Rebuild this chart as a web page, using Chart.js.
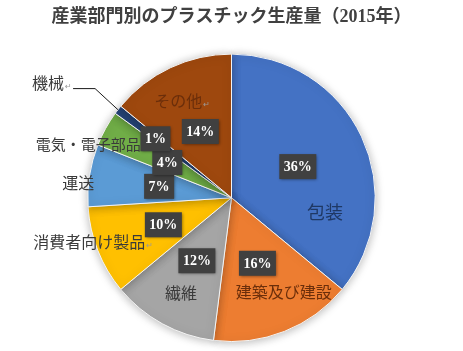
<!DOCTYPE html>
<html>
<head>
<meta charset="utf-8">
<script src="https://cdn.jsdelivr.net/npm/chart.js@4"></script>
<style>
  html, body { margin: 0; padding: 0; background: #ffffff; }
  #wrap { width: 463px; height: 351px; }
</style>
</head>
<body>
<div id="wrap"><canvas id="chart" width="463" height="351"></canvas></div>
<script>
// chart data
const categories = ['包装', '建築及び建設', '繊維', '消費者向け製品', '運送', '電気・電子部品', '機械', 'その他'];
const shares = [36, 16, 12, 10, 7, 4, 1, 14];
const sliceColors = ['#4472C4', '#ED7D31', '#A5A5A5', '#FFC000', '#5B9BD5', '#70AD47', '#264478', '#9E480E'];

const SERIF = '"Liberation Serif", "DejaVu Serif", "Noto Sans CJK JP", serif';

// where each category name sits: r = fraction of radius, t = fraction along the slice
const nameLayout = [
  { r: 0.66, t: 0.77, size: 18, color: '#1F3864' },
  { r: 0.76, t: 0.38, size: 16, color: '#6B2E0A' },
  { r: 0.76, t: 0.47, size: 16, color: '#3A3A3A' },
  { r: 1.04, t: 0.60, size: 16, color: '#3A3A3A', mark: true },
  { r: 1.07, t: 0.34, size: 16, color: '#3A3A3A' },
  { r: 1.06, t: -0.12, size: 15, color: '#3A3A3A' },
  { r: 1.50, t: -1.2, size: 16, color: '#3A3A3A', mark: true, leader: true },
  { r: 0.76, t: 0.42, size: 16, color: '#6B2E0A', mark: true }
];
// radius fraction of the percentage boxes
const pctRadius = [0.51, 0.49, 0.50, 0.51, 0.51, 0.51, 0.67, 0.51];

const pieShadow = {
  id: 'pieShadow',
  beforeDatasetsDraw(chart) {
    const ctx = chart.ctx;
    ctx.save();
    ctx.shadowColor = 'rgba(0,0,0,0.28)';
    ctx.shadowBlur = 10;
    ctx.shadowOffsetX = 0;
    ctx.shadowOffsetY = 1;
  },
  afterDatasetsDraw(chart) {
    chart.ctx.restore();
  }
};

const pieLabels = {
  id: 'pieLabels',
  afterDatasetsDraw(chart) {
    const ctx = chart.ctx;
    const meta = chart.getDatasetMeta(0);
    const values = chart.data.datasets[0].data;
    const total = values.reduce((a, b) => a + b, 0);

    meta.data.forEach((arc, i) => {
      const p = arc.getProps(['x', 'y', 'startAngle', 'endAngle', 'outerRadius'], true);
      const R = p.outerRadius;
      const mid = (p.startAngle + p.endAngle) / 2;

      // category name
      const lay = nameLayout[i];
      const a = p.startAngle + (p.endAngle - p.startAngle) * lay.t;
      const nx = p.x + Math.cos(a) * R * lay.r;
      const ny = p.y + Math.sin(a) * R * lay.r;
      ctx.save();
      ctx.font = lay.size + 'px ' + SERIF;
      ctx.fillStyle = lay.color;
      ctx.textAlign = 'center';
      ctx.textBaseline = 'middle';
      ctx.fillText(categories[i], nx, ny);
      const w = ctx.measureText(categories[i]).width;
      if (lay.mark) {
        ctx.font = '8px "DejaVu Sans"';
        ctx.fillStyle = '#9a9a9a';
        ctx.textAlign = 'left';
        ctx.fillText('\u21B5', nx + w / 2 + 1, ny + 2);
      }
      if (lay.leader) {
        const ex = p.x + Math.cos(mid) * R;
        const ey = p.y + Math.sin(mid) * R;
        ctx.strokeStyle = '#1a1a1a';
        ctx.lineWidth = 1;
        ctx.beginPath();
        ctx.moveTo(ex, ey);
        ctx.lineTo(nx + w / 2 + 31, ny + 4);
        ctx.lineTo(nx + w / 2 + 9, ny + 4);
        ctx.stroke();
      }
      ctx.restore();

      // percentage box
      const pct = Math.round(values[i] / total * 100) + '%';
      const bx = p.x + Math.cos(mid) * R * pctRadius[i];
      const by = p.y + Math.sin(mid) * R * pctRadius[i];
      ctx.save();
      ctx.font = 'bold 14px ' + SERIF;
      const tw = ctx.measureText(pct).width;
      const bw = tw + 9, bh = 25;
      ctx.shadowColor = 'rgba(0,0,0,0.45)';
      ctx.shadowBlur = 3;
      ctx.shadowOffsetX = 1;
      ctx.shadowOffsetY = 1;
      ctx.fillStyle = '#404040';
      ctx.fillRect(bx - bw / 2, by - bh / 2, bw, bh);
      ctx.shadowColor = 'transparent';
      ctx.fillStyle = '#ffffff';
      ctx.textAlign = 'center';
      ctx.textBaseline = 'middle';
      ctx.fillText(pct, bx, by + 1);
      ctx.restore();
    });
  }
};

new Chart(document.getElementById('chart'), {
  type: 'pie',
  data: {
    labels: categories,
    datasets: [{
      data: shares,
      backgroundColor: sliceColors,
      borderColor: '#f4f4f4',
      borderWidth: 1
    }]
  },
  options: {
    responsive: false,
    animation: false,
    layout: { padding: { top: 0, bottom: 9, left: 0, right: 0 } },
    plugins: {
      legend: { display: false },
      tooltip: { enabled: false },
      title: {
        display: true,
        text: '産業部門別のプラスチック生産量（2015年）',
        color: '#404040',
        font: { family: SERIF, size: 18, weight: 'bold', lineHeight: 1.2 },
        padding: { top: 7, bottom: 25 }
      }
    }
  },
  plugins: [pieShadow, pieLabels]
});
</script>
</body>
</html>
